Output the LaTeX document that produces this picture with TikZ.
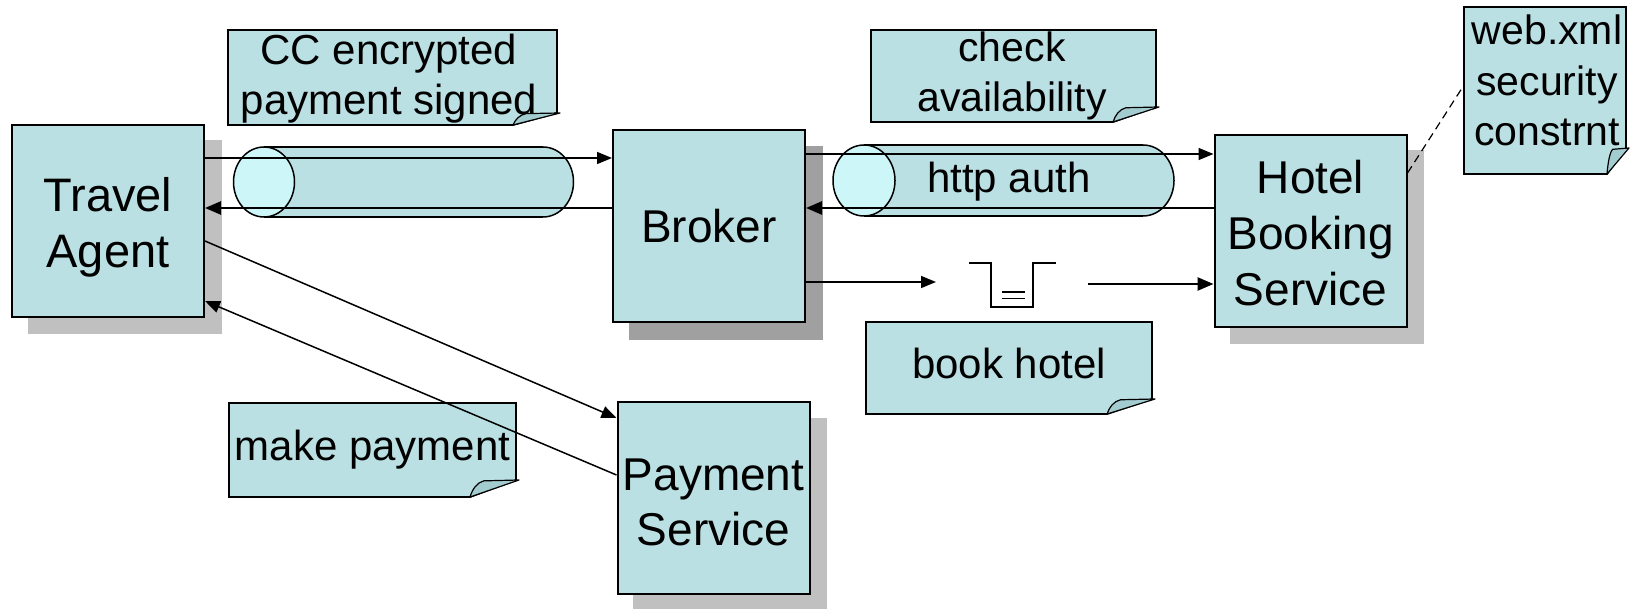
\documentclass[tikz,border=0pt]{standalone}
\usepackage{fontspec}
\setmainfont{Liberation Sans}
\usetikzlibrary{arrows.meta,backgrounds}

\definecolor{boxfill}{RGB}{187,224,227}
\definecolor{cylface}{RGB}{204,246,247}
\definecolor{shadowgray}{RGB}{192,192,192}
\definecolor{shadowdark}{RGB}{160,160,160}
\definecolor{flapfill}{RGB}{163,204,209}

\tikzset{
  service/.style={draw=black, line width=2pt, fill=boxfill,
    minimum width=192pt, minimum height=192pt, inner sep=0pt},
  boxtext/.style={anchor=base, align=center, inner sep=0pt,
    font={\fontsize{46}{56}\selectfont\lineskiplimit=-50pt}},
  notetext/.style={anchor=base, align=center, inner sep=0pt,
    font={\fontsize{42}{50}\selectfont\lineskiplimit=-50pt}},
  notecardstyle/.style={draw=black, line width=1.8pt, fill=boxfill, line join=miter},
  flapstyle/.style={draw=black, line width=1.2pt, fill=flapfill, line join=round},
  thinarrow/.style={line width=1.5pt, -{Triangle[length=15pt,width=12pt]}},
  thickarrow/.style={line width=2.5pt, -{Triangle[length=16pt,width=13pt]}},
  pipe/.style={draw=black, line width=1.5pt},
  queueline/.style={line width=1.5pt},
}

% sticky note with a folded bottom-right corner: x1,y1,x2,y2,fold width,fold height
\newcommand\notecard[6]{%
  \filldraw[notecardstyle] (#1,#2) -- (#3,#2) -- (#3,{#4-#6}) -- ({#3-#5},#4) -- (#1,#4) -- cycle;
  \filldraw[flapstyle] ({#3-#5},#4)
    .. controls ({#3-0.95*#5},{#4-0.45*#6}) and ({#3-0.85*#5},{#4-0.85*#6}) .. ({#3-0.7*#5},{#4-0.95*#6})
    -- ({#3+3},{#4-#6}) -- cycle;
}

\begin{document}
\begin{tikzpicture}[x=1pt,y=-1pt]
\useasboundingbox (0,0) rectangle (1635,609);

% services
\node[service] (ta)     at (108,221)    {};
\node[service] (broker) at (709,226.5)  {};
\node[service] (hotel)  at (1310.5,231) {};
\node[service] (pay)    at (713.5,498)  {};

% drop shadows
\begin{scope}[on background layer]
  \foreach \n in {ta,hotel,pay}
    \fill[shadowgray] ([shift={(16.5,16.5)}]\n.south west) rectangle ([shift={(16.5,16.5)}]\n.north east);
  \fill[shadowdark] ([shift={(16.5,16.5)}]broker.south west) rectangle ([shift={(16.5,16.5)}]broker.north east);
\end{scope}

% secure pipes
\filldraw[pipe, fill=boxfill] (543,182) ellipse [x radius=30.5, y radius=35];
\fill[boxfill] (264,147) rectangle (543,217);
\draw[pipe] (264,147) -- (543,147) (264,217) -- (543,217);
\filldraw[pipe, fill=cylface] (264,182) ellipse [x radius=30.5, y radius=35];

\filldraw[pipe, fill=boxfill] (1143,180.5) ellipse [x radius=31, y radius=35.5];
\fill[boxfill] (864,145) rectangle (1143,216);
\draw[pipe] (864,145) -- (1143,145) (864,216) -- (1143,216);
\filldraw[pipe, fill=cylface] (864,180.5) ellipse [x radius=31, y radius=35.5];

% notes
\notecard{228}{30}{557}{125}{44}{12}
\notecard{871}{30}{1156}{122}{43}{15}
\notecard{1464}{7}{1626}{174}{19}{26}
\notecard{866}{322}{1152}{414}{45}{15}
\notecard{229}{403}{516}{497}{46}{17}

% message queue
\draw[queueline] (969,263) -- (991,263) -- (991,307) -- (1033,307) -- (1033,263) -- (1056,263);
\draw[queueline] (1002,292) -- (1025,292) (1002,298.5) -- (1025,298.5);

% rows used by the connectors
\coordinate (r1) at (0,158);
\coordinate (r2) at (0,208);
\coordinate (r3) at (0,154);
\coordinate (d1) at (0,241);
\coordinate (d2) at (0,418);
\coordinate (d3) at (0,475);
\coordinate (d4) at (0,301);
\coordinate (dd) at (0,173);
\coordinate (qin)  at (936,282);
\coordinate (qout) at (1088,284);
\coordinate (webpin) at (1464,85);

% connectors
\draw[thinarrow]  (ta.east |- r1) -- (broker.west |- r1);
\draw[thickarrow] (broker.west |- r2) -- (ta.east |- r2);
\draw[thinarrow]  (broker.east |- r3) -- (hotel.west |- r3);
\draw[thickarrow] (hotel.west |- r2) -- (broker.east |- r2);
\draw[thinarrow]  (broker.east |- qin) -- (qin);
\draw[thickarrow] (qout) -- (hotel.west |- qout);
\draw[thinarrow]  (ta.east |- d1) -- (pay.west |- d2);
\draw[thinarrow]  (pay.west |- d3) -- (ta.east |- d4);
\draw[line width=1.2pt, dash pattern=on 8pt off 5pt] (hotel.east |- dd) -- (webpin);

% labels (anchored at the baseline of their last line)
\node[boxtext, font={\fontsize{47}{56}\selectfont\lineskiplimit=-50pt}] (ta-label) at (108,268) {Travel\\Agent};
\node[boxtext] (broker-label) at (709,243) {Broker};
\node[boxtext] (hotel-label) at (1310.5,306) {Hotel\\Booking\\Service};
\node[boxtext, font={\fontsize{46}{55}\selectfont\lineskiplimit=-50pt}] (pay-label) at (713.5,545) {Payment\\Service};

\node[notetext] (cc-label) at (389,115) {CC encrypted\\payment signed};
\node[notetext, font={\fontsize{41}{50}\selectfont\lineskiplimit=-50pt}] (check-label) at (1012,112) {check\\availability};
\node[notetext, font={\fontsize{41}{50.5}\selectfont\lineskiplimit=-50pt}] (web-label) at (1547,146) {web.xml\\security\\constrnt};
\node[notetext] (book-label) at (1009,378) {book hotel};
\node[notetext] (make-label) at (372.5,460) {make payment};
\node[notetext] (http-label) at (1009,193) {http auth};
\end{tikzpicture}
\end{document}
